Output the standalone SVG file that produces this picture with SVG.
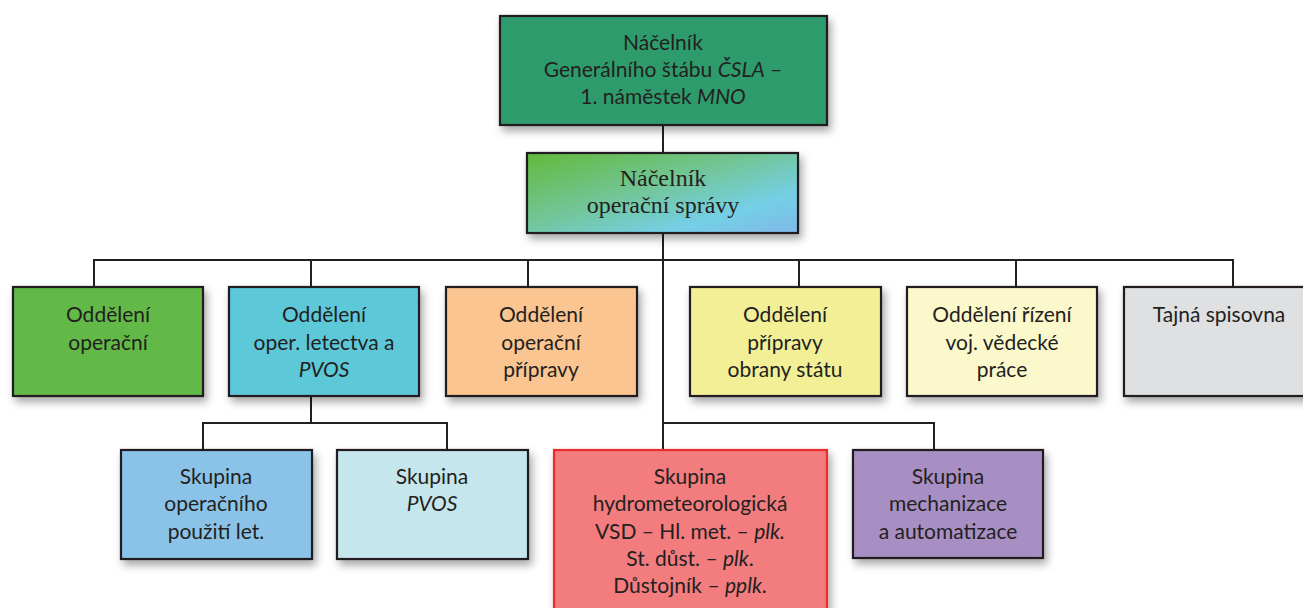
<svg xmlns="http://www.w3.org/2000/svg" width="1303" height="608" viewBox="0 0 1303 608">
  <defs>
    <linearGradient id="gradChief" x1="0" y1="0" x2="1" y2="1">
      <stop offset="0" stop-color="#63b93a"/>
      <stop offset="0.45" stop-color="#72c69a"/>
      <stop offset="0.75" stop-color="#74cfe6"/>
      <stop offset="1" stop-color="#80b8e8"/>
    </linearGradient>
    <filter id="shadow" x="-10%" y="-10%" width="125%" height="135%">
      <feDropShadow dx="3" dy="5" stdDeviation="4" flood-color="#000" flood-opacity="0.35"/>
    </filter>
  </defs>
  <style>
    .box { stroke: #231f20; stroke-width: 2.2; filter: url(#shadow); }
    .lbl { font-family: Lato, "Open Sans", "DejaVu Sans", sans-serif; font-size: 21px; fill: #231f20; text-anchor: middle; }
    .serif { font-family: "Liberation Serif", "Times New Roman", serif; font-size: 24px; fill: #231f20; text-anchor: middle; }
    .it { font-style: italic; }
    .conn { stroke: #231f20; stroke-width: 2; fill: none; }
  </style>
  <rect width="1303" height="608" fill="#ffffff"/>

  <!-- connectors -->
  <g id="connectors" class="conn">
    <line x1="663" y1="125" x2="663" y2="153"/>
    <line x1="663" y1="233" x2="663" y2="450"/>
    <polyline points="94,287 94,260 1233,260 1233,287"/>
    <line x1="311" y1="260" x2="311" y2="287"/>
    <line x1="528" y1="260" x2="528" y2="287"/>
    <line x1="799" y1="260" x2="799" y2="287"/>
    <line x1="1016" y1="260" x2="1016" y2="287"/>
    <line x1="311" y1="396" x2="311" y2="423"/>
    <polyline points="203,450 203,423 447,423 447,450"/>
    <polyline points="663,423 934,423 934,450"/>
  </g>

  <g id="n-chief-general-staff">
    <rect class="box" x="500" y="16" width="327" height="109" fill="#2f9b6c"/>
    <text class="lbl" x="663" y="50">Náčelník</text>
    <text class="lbl" x="663" y="77">Generálního štábu <tspan class="it">ČSLA</tspan> –</text>
    <text class="lbl" x="663" y="104">1. náměstek <tspan class="it">MNO</tspan></text>
  </g>

  <g id="n-chief-operations">
    <rect class="box" x="527" y="153" width="271" height="80" fill="url(#gradChief)"/>
    <text class="serif" x="663" y="186">Náčelník</text>
    <text class="serif" x="663" y="213">operační správy</text>
  </g>

  <g id="n-operations-dept">
    <rect class="box" x="13" y="287" width="190" height="109" fill="#62b946"/>
    <text class="lbl" x="108" y="322">Oddělení</text>
    <text class="lbl" x="108" y="350">operační</text>
  </g>

  <g id="n-air-dept">
    <rect class="box" x="229" y="287" width="190" height="109" fill="#5bc8d8"/>
    <text class="lbl" x="324" y="322">Oddělení</text>
    <text class="lbl" x="324" y="350">oper. letectva a</text>
    <text class="lbl it" x="324" y="377">PVOS</text>
  </g>

  <g id="n-training-dept">
    <rect class="box" x="446" y="287" width="191" height="109" fill="#fbc591"/>
    <text class="lbl" x="541" y="322">Oddělení</text>
    <text class="lbl" x="541" y="350">operační</text>
    <text class="lbl" x="541" y="377">přípravy</text>
  </g>

  <g id="n-defence-dept">
    <rect class="box" x="690" y="287" width="191" height="109" fill="#f2ef97"/>
    <text class="lbl" x="785" y="322">Oddělení</text>
    <text class="lbl" x="785" y="350">přípravy</text>
    <text class="lbl" x="785" y="377">obrany státu</text>
  </g>

  <g id="n-science-dept">
    <rect class="box" x="907" y="287" width="190" height="109" fill="#fbf8cc"/>
    <text class="lbl" x="1002" y="322">Oddělení řízení</text>
    <text class="lbl" x="1002" y="350">voj. vědecké</text>
    <text class="lbl" x="1002" y="377">práce</text>
  </g>

  <g id="n-registry">
    <rect class="box" x="1124" y="287" width="190" height="109" fill="#dfe0e2"/>
    <text class="lbl" x="1219" y="322">Tajná spisovna</text>
  </g>

  <g id="n-air-ops-group">
    <rect class="box" x="121" y="450" width="191" height="109" fill="#8bc3e8"/>
    <text class="lbl" x="216" y="484">Skupina</text>
    <text class="lbl" x="216" y="511">operačního</text>
    <text class="lbl" x="216" y="539">použití let.</text>
  </g>

  <g id="n-pvos-group">
    <rect class="box" x="337" y="450" width="191" height="109" fill="#c5e6ec"/>
    <text class="lbl" x="432" y="484">Skupina</text>
    <text class="lbl it" x="432" y="511">PVOS</text>
  </g>

  <g id="n-hydromet-group">
    <rect class="box" x="554" y="450" width="273" height="170" fill="#f27b7e" style="stroke:#ec2a30"/>
    <text class="lbl" x="690" y="484">Skupina</text>
    <text class="lbl" x="690" y="511">hydrometeorologická</text>
    <text class="lbl" x="690" y="539">VSD – Hl. met. – <tspan class="it">plk.</tspan></text>
    <text class="lbl" x="690" y="566">St. důst. – <tspan class="it">plk</tspan>.</text>
    <text class="lbl" x="690" y="593">Důstojník – <tspan class="it">pplk</tspan>.</text>
  </g>

  <g id="n-automation-group">
    <rect class="box" x="853" y="450" width="190" height="108" fill="#a88fc3"/>
    <text class="lbl" x="948" y="484">Skupina</text>
    <text class="lbl" x="948" y="511">mechanizace</text>
    <text class="lbl" x="948" y="539">a automatizace</text>
  </g>
</svg>
